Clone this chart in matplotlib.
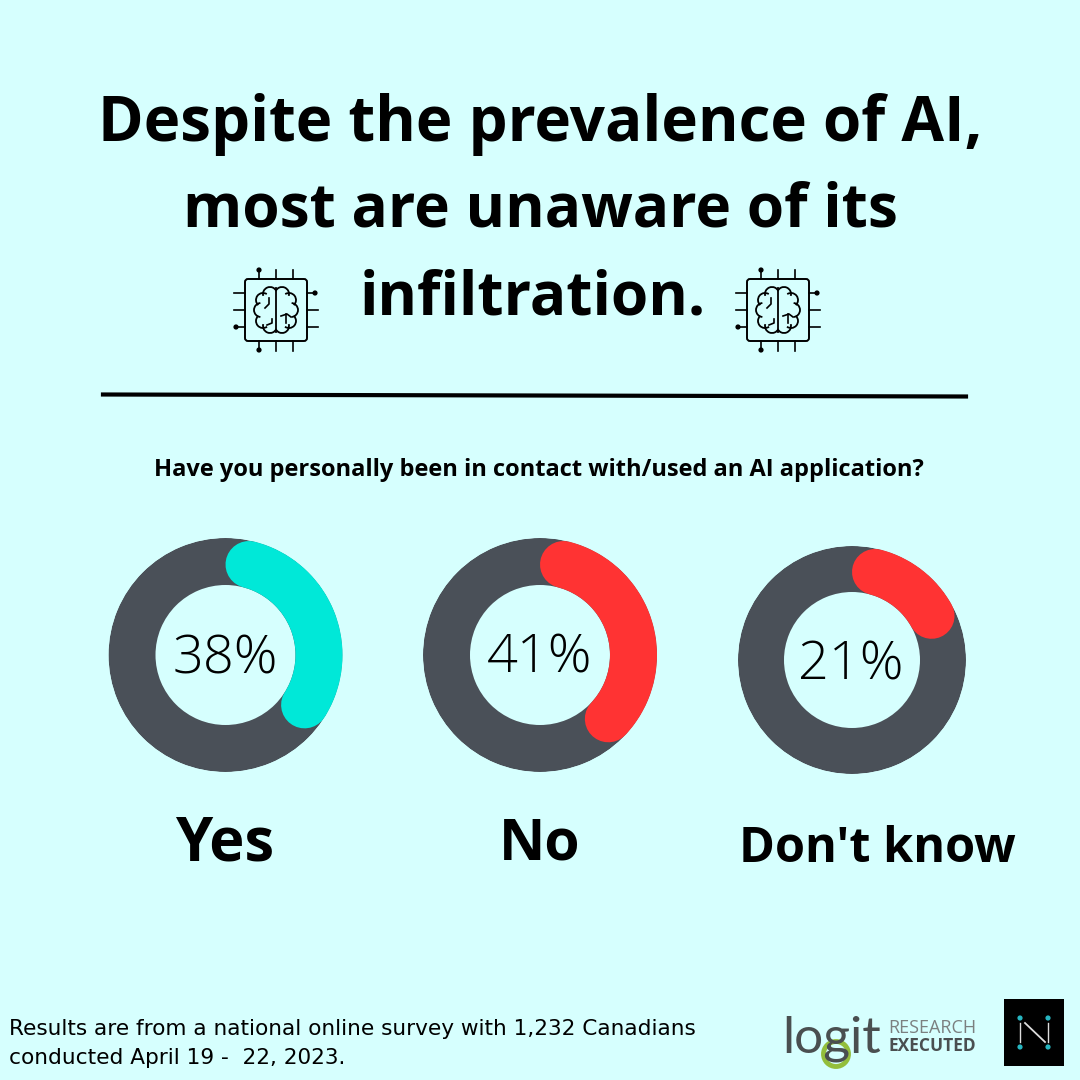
import numpy as np
import matplotlib
matplotlib.use("Agg")
import matplotlib.pyplot as plt
from matplotlib.patches import Rectangle, FancyBboxPatch, Circle, Arc

labels = ["Yes", "No", "Don't know"]
values = [38, 41, 21]
percent_text = ["38%", "41%", "21%"]
arc_colors = ["#00E8D8", "#FF3333", "#FF3333"]
track_color = "#4A5058"
bg_color = "#D6FFFE"

title_lines = ["Despite the prevalence of AI,", "most are unaware of its", "infiltration."]
question = "Have you personally been in contact with/used an AI application?"
footnote = ["Results are from a national online survey with 1,232 Canadians",
            "conducted April 19 -  22, 2023."]

# centre x, centre y, outer radius, ring width (pixels)
donut_boxes = [(225.5, 655, 117, 47), (540, 655, 117, 47), (852, 660, 114, 46)]

fig = plt.figure(figsize=(10.8, 10.8), dpi=100, facecolor=bg_color)
page = fig.add_axes([0, 0, 1, 1])
page.set_xlim(0, 1080)
page.set_ylim(1080, 0)
page.axis("off")


def draw_donut(box, value, color):
    cx, cy, outer, width = box
    ax = fig.add_axes([(cx - outer) / 1080, 1 - (cy + outer) / 1080, 2 * outer / 1080, 2 * outer / 1080],
                      projection="polar")
    ax.set_theta_zero_location("N")
    ax.set_theta_direction(-1)
    ax.set_ylim(0, outer)
    ax.axis("off")
    ax.patch.set_alpha(0)
    mid = outer - width / 2
    ax.bar(np.pi, width, width=2 * np.pi, bottom=outer - width, color=track_color, linewidth=0)
    # the round caps sit inside the arc length, the way the original draws them
    cap = np.arcsin(width / 2 / mid)
    t = np.linspace(cap, 2 * np.pi * value / 100 - cap, 200)
    ax.plot(t, np.full_like(t, mid), color=color, lw=width * 0.72, solid_capstyle="round", clip_on=False)


def draw_chip(cx, cy):
    k = "black"
    page.add_patch(FancyBboxPatch((cx - 31, cy - 31), 62, 62, boxstyle="round,pad=0,rounding_size=3",
                                  fc="none", ec=k, lw=1.4))
    for off in (-17, 0, 17):
        page.plot([cx + off, cx + off], [cy - 40, cy - 31], color=k, lw=1.2)
        page.plot([cx + off, cx + off], [cy + 31, cy + 41], color=k, lw=1.2)
        page.plot([cx - (40 if off == 17 else 42), cx - 31], [cy + off, cy + off], color=k, lw=1.2)
        page.plot([cx + 31, cx + (39 if off == -17 else 42)], [cy + off, cy + off], color=k, lw=1.2)
    for dx, dy in [(-17, -40), (-17, 40), (-40, 17), (39, -17)]:
        page.add_patch(Circle((cx + dx, cy + dy), 2.6, fc=k, ec="none"))
    # brain outline made of small lobes
    lobes = [(-6, -16), (-13, -10), (-15, 0), (-13, 11), (-6, 16),
             (6, -16), (13, -10), (15, 0), (13, 11), (6, 16)]
    for dx, dy in lobes:
        a = np.degrees(np.arctan2(dy, dx))
        page.add_patch(Arc((cx + dx, cy + dy), 14, 14, angle=a, theta1=-85, theta2=85, color=k, lw=1.3))
    page.plot([cx, cx], [cy - 22, cy + 22], color=k, lw=1.3)
    page.plot([cx - 11, cx - 7, cx - 7], [cy - 2, cy - 6, cy - 12], color=k, lw=1.2)
    page.plot([cx + 5, cx + 11, cx + 15], [cy + 6, cy + 4, cy + 7], color=k, lw=1.2)
    page.plot([cx + 10, cx + 10], [cy + 4, cy + 13], color=k, lw=1.2)
    page.plot([cx - 9, cx - 4, cx - 4], [cy + 15, cy + 13, cy + 9], color=k, lw=1.2)


for box, value, color in zip(donut_boxes, values, arc_colors):
    draw_donut(box, value, color)

for x, y, size, line in zip([540, 540, 533], [124, 211, 299], [44.6, 43.5, 43.5], title_lines):
    page.text(x, y, line, family="Open Sans", weight="bold", fontsize=size, ha="center", va="center", color="black")

draw_chip(276, 310)
draw_chip(778, 310)

page.plot([103, 966], [394.5, 396.5], color="black", lw=3)
page.text(539, 470, question, family="Open Sans", weight="bold", fontsize=17, ha="center", va="center", color="black")

top = fig.add_axes([0, 0, 1, 1])
top.set_xlim(0, 1080)
top.set_ylim(1080, 0)
top.axis("off")
top.patch.set_alpha(0)

for x, y, text in zip([225.5, 540, 851], [660, 659, 666], percent_text):
    top.text(x, y, text, family="Open Sans", weight="light", fontsize=39, ha="center", va="center", color="black")
for x, y, size, text in zip([225, 540, 877], [845, 845, 850], [43, 41, 35], labels):
    top.text(x, y, text, family="Open Sans", weight="bold", fontsize=size, ha="center", va="center", color="black")

for y, line in zip([1029, 1058], footnote):
    top.text(9, y, line, family="DejaVu Sans", fontsize=15.6, ha="left", va="center", color="black")

# logit logo
logo_gray = "#4A4F50"
top.text(782, 1052, "logit", family="Lato", fontsize=37, ha="left", va="baseline", color=logo_gray)
top.add_patch(Circle((836, 1054), 12.5, fc=bg_color, ec="#93BE3C", lw=3.5))
top.text(888, 1028, "RESEARCH", family="Open Sans", fontsize=13, ha="left", va="center", color="#7B8080")
top.text(888, 1046, "EXECUTED", family="Open Sans", weight="bold", fontsize=12.5, ha="left", va="center", color=logo_gray)

# N logo
top.add_patch(Rectangle((1004, 999), 60, 67, fc="black", ec="none"))
top.plot([1020, 1020], [1023, 1042], color="#DDDDDD", lw=1)
top.plot([1048, 1048], [1023, 1042], color="#DDDDDD", lw=1)
top.plot([1025, 1045], [1023, 1042], color="#DDDDDD", lw=1.3)
for x, y in [(1020, 1018), (1048, 1018), (1020, 1047), (1048, 1047)]:
    top.add_patch(Circle((x, y), 2.6, fc="#27B5C0", ec="none"))

fig.savefig("out.png", dpi=100, facecolor=bg_color)
